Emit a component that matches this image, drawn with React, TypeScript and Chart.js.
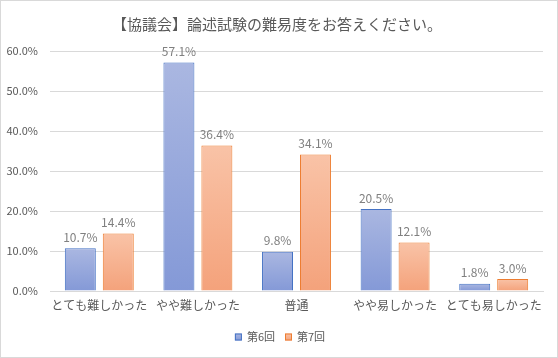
import React, { useEffect, useRef } from "react";
import { Chart, registerables } from "chart.js";

Chart.register(...registerables);

const categories = ["とても難しかった", "やや難しかった", "普通", "やや易しかった", "とても易しかった"];
const seriesNames = ["第6回", "第7回"];
const series6 = [10.7, 57.1, 9.8, 20.5, 1.8];
const series7 = [14.4, 36.4, 34.1, 12.1, 3.0];
const yMax = 60;
const yStep = 10;
const titleText = "【協議会】論述試験の難易度をお答えください。";

const FONT = "'Noto Sans CJK JP', 'Noto Sans', sans-serif";

const palettes = [
  { top: "#aab7e1", bottom: "#8499d7", border: "#4472c4", mid: "#97a8dc" },
  { top: "#f9c3a7", bottom: "#f4a27b", border: "#ed7d31", mid: "#f6b290" },
];

function gradientFor(idx: number) {
  return (ctx: any) => {
    const p = palettes[idx];
    const chart = ctx.chart;
    if (ctx.type !== "data" || !chart.chartArea || !chart.scales.y) return p.mid;
    const y = chart.scales.y;
    const top = y.getPixelForValue(ctx.raw);
    const bot = y.getPixelForValue(0);
    if (!isFinite(top) || !isFinite(bot) || top === bot) return p.mid;
    const g = chart.ctx.createLinearGradient(0, top, 0, bot);
    g.addColorStop(0, p.top);
    g.addColorStop(1, p.bottom);
    return g;
  };
}

const dataLabelPlugin = {
  id: "dataLabels",
  afterDatasetsDraw(chart: any) {
    const ctx = chart.ctx;
    ctx.save();
    ctx.font = `12px ${FONT}`;
    ctx.fillStyle = "#808080";
    ctx.textAlign = "center";
    ctx.textBaseline = "bottom";
    chart.data.datasets.forEach((ds: any, di: number) => {
      const meta = chart.getDatasetMeta(di);
      meta.data.forEach((el: any, i: number) => {
        ctx.fillText(Number(ds.data[i]).toFixed(1) + "%", el.x, el.y - 5);
      });
    });
    ctx.restore();
  },
};

const titleLegendPlugin = {
  id: "titleLegend",
  afterDraw(chart: any) {
    const ctx = chart.ctx;
    const cx = chart.width / 2;
    ctx.save();
    // title
    ctx.font = `15px ${FONT}`;
    ctx.fillStyle = "#595959";
    ctx.textAlign = "center";
    ctx.textBaseline = "middle";
    ctx.fillText(titleText, cx - 2, 23);
    // legend
    ctx.font = `11px ${FONT}`;
    const box = 7;
    const gap = 5;
    const spacing = 10;
    const widths = chart.data.datasets.map((ds: any) => box + gap + ctx.measureText(ds.label).width);
    const total = widths.reduce((a: number, b: number) => a + b, 0) + spacing * (widths.length - 1);
    let x = cx + 1 - total / 2;
    const y = 336;
    ctx.textAlign = "left";
    chart.data.datasets.forEach((ds: any, i: number) => {
      const p = palettes[i];
      const g = ctx.createLinearGradient(0, y - box / 2, 0, y + box / 2);
      g.addColorStop(0, p.top);
      g.addColorStop(1, p.bottom);
      ctx.fillStyle = g;
      ctx.fillRect(x, y - box / 2, box, box);
      ctx.strokeStyle = p.border;
      ctx.lineWidth = 1;
      ctx.strokeRect(x + 0.5, y - box / 2 + 0.5, box - 1, box - 1);
      ctx.fillStyle = "#595959";
      ctx.fillText(ds.label, x + box + gap, y);
      x += widths[i] + spacing;
    });
    ctx.restore();
  },
};

export default function App() {
  const ref = useRef<HTMLCanvasElement | null>(null);
  useEffect(() => {
    document.body.style.margin = "0";
    const canvas = ref.current!;
    const chart = new Chart(canvas, {
      type: "bar",
      data: {
        labels: categories,
        datasets: [
          {
            label: seriesNames[0],
            data: series6,
            backgroundColor: gradientFor(0),
            borderColor: palettes[0].border,
            borderWidth: 1,
          },
          {
            label: seriesNames[1],
            data: series7,
            backgroundColor: gradientFor(1),
            borderColor: palettes[1].border,
            borderWidth: 1,
          },
        ],
      },
      options: {
        animation: false,
        responsive: false,
        maintainAspectRatio: false,
        layout: { padding: { left: 0, right: 14, top: 50, bottom: 36 } },
        datasets: {
          bar: { categoryPercentage: 0.77, barPercentage: 0.816 },
        },
        scales: {
          x: {
            grid: { display: false, drawTicks: false },
            border: { display: true, color: "#d9d9d9" },
            ticks: {
              color: "#595959",
              font: { family: FONT, size: 12 },
              padding: 7,
              maxRotation: 0,
              autoSkip: false,
            },
            afterFit: (s: any) => {
              s.height = 30;
            },
          },
          y: {
            min: 0,
            max: yMax,
            grid: { color: "#d9d9d9", drawTicks: false },
            border: { display: false },
            ticks: {
              stepSize: yStep,
              color: "#595959",
              font: { family: FONT, size: 11 },
              padding: 12,
              callback: (v: any) => Number(v).toFixed(1) + "%",
            },
            afterFit: (s: any) => {
              s.width = 49;
            },
          },
        },
        plugins: {
          title: { display: false },
          legend: { display: false },
          tooltip: { enabled: false },
        },
      },
      plugins: [dataLabelPlugin, titleLegendPlugin],
    });
    return () => chart.destroy();
  }, []);

  return (
    <div
      style={{
        width: 558,
        height: 358,
        boxSizing: "border-box",
        border: "1px solid #d9d9d9",
        background: "#ffffff",
      }}
    >
      <canvas ref={ref} width={556} height={356} style={{ display: "block" }} />
    </div>
  );
}
